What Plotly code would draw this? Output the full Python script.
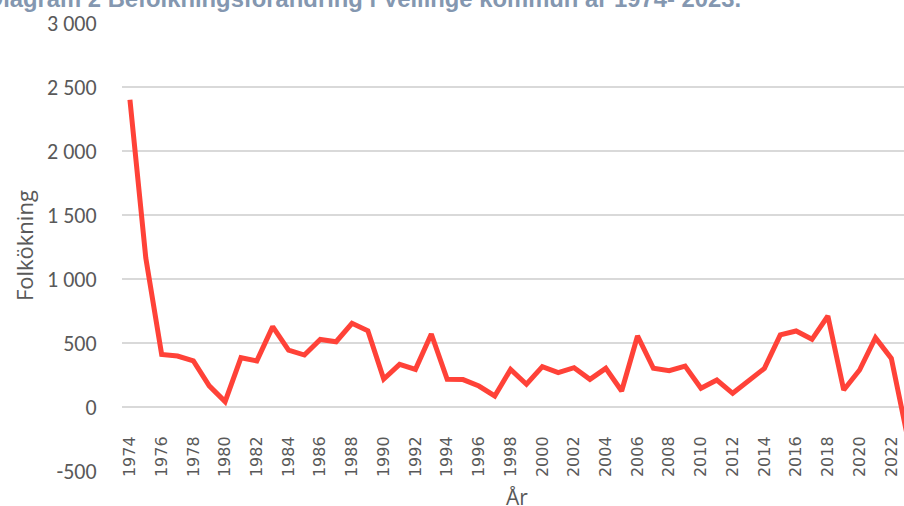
import plotly.graph_objects as go

years = list(range(1974, 2024))
growth = [2400, 1165, 410, 398, 360, 165, 42, 385, 360, 628,
          445, 406, 528, 510, 654, 596, 218, 333, 294, 570,
          216, 214, 164, 86, 294, 178, 315, 268, 307, 216,
          302, 125, 555, 302, 284, 320, 146, 211, 107, 205,
          302, 563, 594, 529, 711, 133, 289, 541, 380, -220]

y_tickvals = [-500, 0, 500, 1000, 1500, 2000, 2500, 3000]
y_ticktext = ["-500", "0", "500", "1 000", "1 500", "2 000", "2 500", "3 000"]
x_tickvals = list(range(1974, 2023, 2))
x_ticktext = [str(v) for v in x_tickvals]

title_text = "Diagram 2 Befolkningsförändring i Vellinge kommun år 1974- 2023."
y_title = "Folkökning"
x_title = "År"

grey = "#595959"

fig = go.Figure()
fig.add_trace(go.Scatter(
    x=years, y=growth, mode="lines",
    line=dict(color="#FF4238", width=5),
    hoverinfo="x+y", showlegend=False,
))

fig.update_layout(
    width=904, height=506,
    margin=dict(l=122, r=0, t=23, b=35),
    paper_bgcolor="white", plot_bgcolor="white",
    xaxis=dict(
        range=[1973.5, 2022.8],
        anchor="free", position=1/7,
        tickvals=x_tickvals, ticktext=x_ticktext,
        tickangle=-90,
        showgrid=False, zeroline=False, showline=False,
        ticks="outside", ticklen=22, tickcolor="rgba(0,0,0,0)",
        tickfont=dict(family="DejaVu Sans", size=16, color=grey),
    ),
    yaxis=dict(
        range=[-500, 3000],
        tickvals=y_tickvals, ticktext=y_ticktext,
        showgrid=True, gridcolor="#D9D9D9", gridwidth=1.5,
        zeroline=False, showline=False,
        ticks="outside", ticklen=20, tickcolor="rgba(0,0,0,0)",
        tickfont=dict(family="Carlito, Liberation Sans Narrow, Roboto", size=22, color=grey),
    ),
    annotations=[
        dict(text=title_text, xref="paper", yref="paper",
             x=-0.1765, y=1.019, xanchor="left", yanchor="bottom",
             showarrow=False,
             font=dict(family="Liberation Sans", size=23.8, color="#8497B0", weight="bold")),
        dict(text=y_title, xref="paper", yref="paper",
             x=-0.1253, y=0.502, xanchor="center", yanchor="middle",
             textangle=-90, showarrow=False,
             font=dict(family="Open Sans, Liberation Sans", size=22, color=grey)),
        dict(text=x_title, xref="paper", yref="paper",
             x=0.505, y=-0.058, xanchor="center", yanchor="middle",
             showarrow=False,
             font=dict(family="Open Sans, Liberation Sans", size=21, color=grey)),
    ],
)

# remove the default 8px page margin so the figure fills the window exactly
fig.write_html("out.html", config={"displayModeBar": False},
               post_script="document.body.style.margin='0px';")
